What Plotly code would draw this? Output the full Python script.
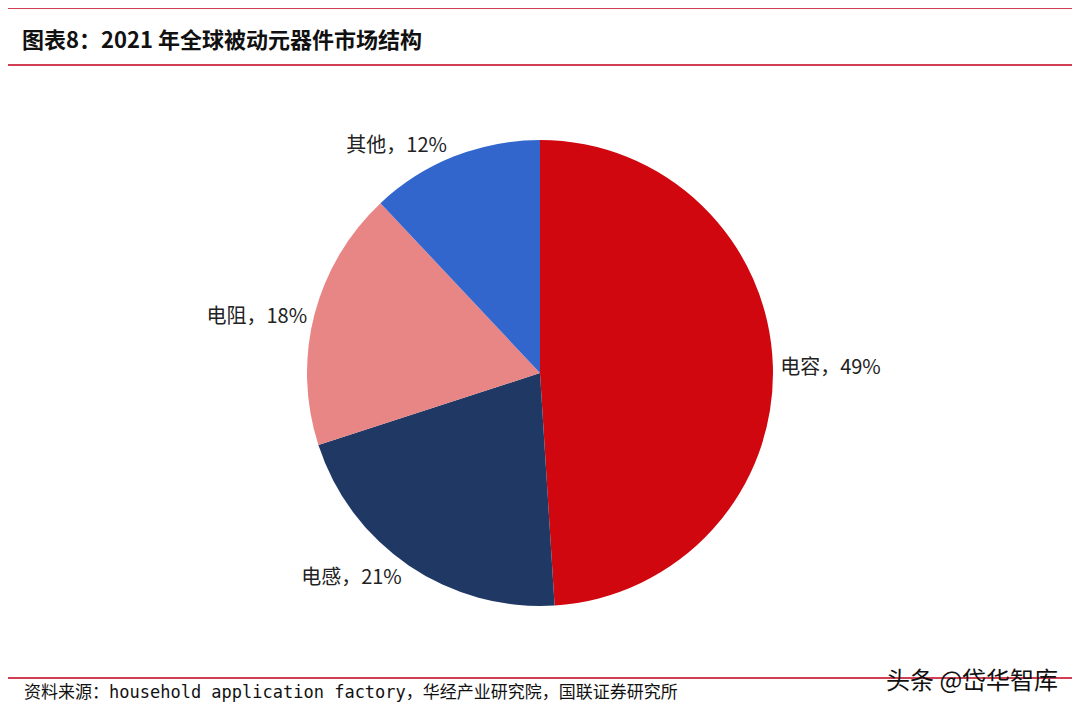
import plotly.graph_objects as go

labels = ["电容", "电感", "电阻", "其他"]
values = [49, 21, 18, 12]
colors = ["#D0070F", "#203864", "#E88585", "#3366CC"]
title = "图表8：2021 年全球被动元器件市场结构"
source = "资料来源：household application factory，华经产业研究院，国联证券研究所"
watermark = "头条 @岱华智库"

W, H = 1080, 708
OFF = 8  # page body margin
cx, cy, r = 540 - OFF, 373 - OFF, 233
font = "Noto Sans CJK SC"

def py(y):
    return 1 - (y - OFF) / H

def px(x):
    return (x - OFF) / W

fig = go.Figure(go.Pie(
    labels=labels, values=values, sort=False, direction="clockwise", rotation=0,
    marker=dict(colors=colors),
    texttemplate="%{label}，%{value}%", textposition="outside",
    textfont=dict(size=20, color="#222", family=font),
    hoverinfo="label+percent", showlegend=False,
    domain=dict(x=[(cx - r) / W, (cx + r) / W], y=[(H - cy - r) / H, (H - cy + r) / H]),
))
shapes = []
for y in [8, 65, 678]:
    shapes.append(dict(type="line", xref="paper", yref="paper", x0=0, x1=1,
                       y0=py(y), y1=py(y), line=dict(color="#C00018", width=1.5)))
fig.update_layout(
    width=W, height=H, margin=dict(l=0, r=0, t=0, b=0),
    paper_bgcolor="white", plot_bgcolor="white", shapes=shapes,
    annotations=[
        dict(text="<b>" + title + "</b>", x=px(20), y=py(38), xref="paper", yref="paper",
             xanchor="left", yanchor="middle", showarrow=False,
             font=dict(size=22, color="#111", family=font)),
        dict(text=source, x=px(22), y=py(692), xref="paper", yref="paper",
             xanchor="left", yanchor="middle", showarrow=False,
             font=dict(size=17, color="#111", family="DejaVu Sans Mono, " + font)),
        dict(text=watermark, x=px(1060), y=py(678), xref="paper", yref="paper",
             xanchor="right", yanchor="middle", showarrow=False,
             font=dict(size=24, color="#111", family=font)),
    ],
)
fig.write_html("out.html")
